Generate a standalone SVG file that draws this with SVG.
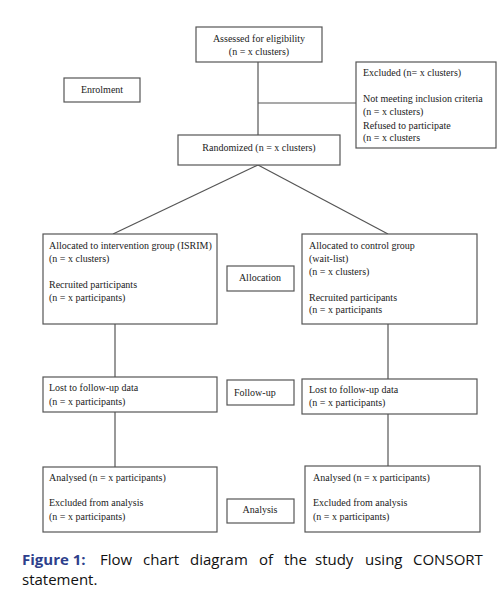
<svg xmlns="http://www.w3.org/2000/svg" width="502" height="591" viewBox="0 0 502 591">
<style>
.box{fill:#fff;stroke:#555;stroke-width:1.2}
.t{font-family:"Liberation Serif","Times New Roman",serif;font-size:10px;fill:#222}
.c{text-anchor:middle}
.ln{stroke:#555;stroke-width:1.2;fill:none}
.cap{font-family:"Open Sans","Liberation Sans",sans-serif;font-size:15px;fill:#111}
</style>
<rect width="502" height="591" fill="#fff"/>
<g id="connectors">
<line class="ln" x1="258" y1="62" x2="258" y2="135"/>
<line class="ln" x1="258" y1="103" x2="356" y2="103"/>
<line class="ln" x1="258" y1="165" x2="113" y2="234"/>
<line class="ln" x1="258" y1="165" x2="388" y2="234"/>
<line class="ln" x1="115" y1="324" x2="115" y2="377"/>
<line class="ln" x1="388" y1="324" x2="388" y2="379"/>
<line class="ln" x1="115" y1="412" x2="115" y2="467"/>
<line class="ln" x1="388" y1="414" x2="388" y2="466"/>
</g>
<g id="assessed">
<rect class="box" x="196" y="27" width="126" height="35"/>
<text class="t c" x="259" y="42">Assessed for eligibility</text>
<text class="t c" x="259" y="55">(n = x clusters)</text>
</g>
<g id="enrolment">
<rect class="box" x="64" y="78" width="76" height="24"/>
<text class="t c" x="102" y="93">Enrolment</text>
</g>
<g id="excluded">
<rect class="box" x="356" y="62" width="140" height="86"/>
<text class="t" x="363" y="76">Excluded (n= x clusters)</text>
<text class="t" x="363" y="102">Not meeting inclusion criteria</text>
<text class="t" x="363" y="115">(n = x clusters)</text>
<text class="t" x="363" y="129">Refused to participate</text>
<text class="t" x="363" y="141">(n = x clusters</text>
</g>
<g id="randomized">
<rect class="box" x="178" y="135" width="162" height="30"/>
<text class="t c" x="259" y="151">Randomized (n = x clusters)</text>
</g>
<g id="alloc-left">
<rect class="box" x="43" y="234" width="174" height="90"/>
<text class="t" x="49" y="249">Allocated to intervention group (ISRIM)</text>
<text class="t" x="49" y="262">(n = x clusters)</text>
<text class="t" x="49" y="288">Recruited participants</text>
<text class="t" x="49" y="301">(n = x participants)</text>
</g>
<g id="allocation">
<rect class="box" x="227" y="266" width="67" height="25"/>
<text class="t c" x="260" y="281">Allocation</text>
</g>
<g id="alloc-right">
<rect class="box" x="302" y="234" width="175" height="90"/>
<text class="t" x="309" y="249">Allocated to control group</text>
<text class="t" x="309" y="262">(wait-list)</text>
<text class="t" x="309" y="275">(n = x clusters)</text>
<text class="t" x="309" y="301">Recruited participants</text>
<text class="t" x="309" y="313">(n = x participants</text>
</g>
<g id="lost-left">
<rect class="box" x="43" y="377" width="174" height="35"/>
<text class="t" x="49" y="391">Lost to follow-up data</text>
<text class="t" x="49" y="405">(n = x participants)</text>
</g>
<g id="followup">
<rect class="box" x="227" y="380" width="67" height="25"/>
<text class="t" x="234" y="396">Follow-up</text>
</g>
<g id="lost-right">
<rect class="box" x="302" y="379" width="175" height="35"/>
<text class="t" x="309" y="393">Lost to follow-up data</text>
<text class="t" x="309" y="406">(n = x participants)</text>
</g>
<g id="analysed-left">
<rect class="box" x="43" y="467" width="174" height="65"/>
<text class="t" x="49" y="481">Analysed (n = x participants)</text>
<text class="t" x="49" y="506">Excluded from analysis</text>
<text class="t" x="49" y="520">(n = x participants)</text>
</g>
<g id="analysis">
<rect class="box" x="227" y="499" width="67" height="24"/>
<text class="t c" x="260" y="513">Analysis</text>
</g>
<g id="analysed-right">
<rect class="box" x="305" y="466" width="175" height="66"/>
<text class="t" x="313" y="481">Analysed (n = x participants)</text>
<text class="t" x="313" y="506">Excluded from analysis</text>
<text class="t" x="313" y="520">(n = x participants)</text>
</g>
<g id="caption">
<text class="cap" y="565"><tspan x="22" font-weight="bold" fill="#2e3f8c">Figure 1:</tspan><tspan x="100">Flow</tspan><tspan x="143">chart</tspan><tspan x="190">diagram</tspan><tspan x="259">of</tspan><tspan x="284">the</tspan><tspan x="315">study</tspan><tspan x="365">using</tspan><tspan x="413">CONSORT</tspan></text>
<text class="cap" x="22" y="585">statement.</text>
</g>
</svg>
